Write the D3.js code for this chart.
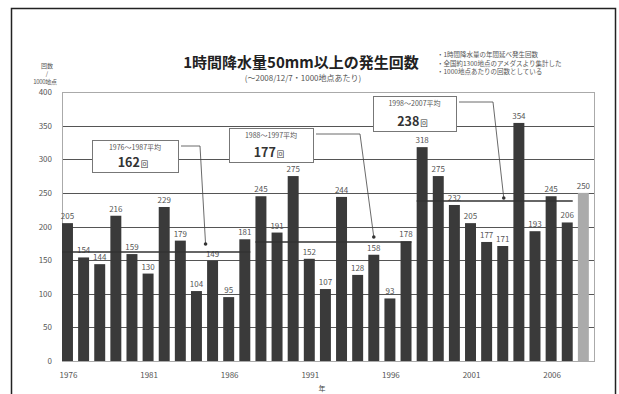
<!DOCTYPE html>
<html lang="ja">
<head>
<meta charset="UTF-8">
<title>1時間降水量50mm以上の発生回数</title>
<script src="https://cdn.jsdelivr.net/npm/d3@7/dist/d3.min.js"></script>
<style>
  body { margin: 0; background: #fff; }
  svg text { font-family: "Noto Sans CJK JP", "Noto Sans", sans-serif; }
</style>
</head>
<body>
<div id="chart"></div>
<script>
const years = ['1976','1977','1978','1979','1980','1981','1982','1983','1984','1985','1986',
  '1987','1988','1989','1990','1991','1992','1993','1994','1995','1996','1997','1998',
  '1999','2000','2001','2002','2003','2004','2005','2006','2007','2008']
const counts = [205, 154, 144, 216, 159, 130, 229, 179, 104, 149, 95, 181, 245, 191, 275, 152,
  107, 244, 128, 158, 93, 178, 318, 275, 232, 205, 177, 171, 354, 193, 245, 206, 250]
const yTicks = [0, 50, 100, 150, 200, 250, 300, 350, 400]
const xTickLabels = ['1976', '1981', '1986', '1991', '1996', '2001', '2006']
const avgLabels = ['1976〜1987平均', '1988〜1997平均', '1998〜2007平均']
const avgFrom = ['1976', '1988', '1998']
const avgTo = ['1987', '1997', '2007']
const avgValues = [162, 177, 238]
const notes = ['・1時間降水量の年間延べ発生回数', '・全国約1300地点のアメダスより集計した', '・1000地点あたりの回数としている']

const width = 619
const height = 394
const plot = { left: 62, right: 594, top: 92, bottom: 361 }

const svg = d3.select('#chart').append('svg')
  .attr('width', width)
  .attr('height', height)

// outer frame
svg.append('rect')
  .attr('x', 11.5).attr('y', 8.5)
  .attr('width', 604).attr('height', 400)
  .attr('fill', 'none').attr('stroke', '#222').attr('stroke-width', 1.5)

const x = d3.scaleBand()
  .domain(years)
  .range([plot.left, plot.right])
  .paddingInner(0.32)
  .paddingOuter(0.16)
  .align(0)

const y = d3.scaleLinear()
  .domain([0, 400])
  .range([plot.bottom, plot.top])

// gridlines
svg.append('g')
  .selectAll('line')
  .data(yTicks.slice(1, -1))
  .join('line')
  .attr('x1', plot.left).attr('x2', plot.right)
  .attr('y1', d => Math.round(y(d)) + 0.5).attr('y2', d => Math.round(y(d)) + 0.5)
  .attr('stroke', '#555').attr('stroke-width', 1)

// plot border
svg.append('rect')
  .attr('x', plot.left + 0.5).attr('y', plot.top + 0.5)
  .attr('width', plot.right - plot.left).attr('height', plot.bottom - plot.top)
  .attr('fill', 'none').attr('stroke', '#aaa')

// y tick labels
svg.append('g')
  .selectAll('text')
  .data(yTicks)
  .join('text')
  .attr('x', 52).attr('y', d => y(d) + 3)
  .attr('text-anchor', 'end')
  .attr('font-size', 8).attr('fill', '#555')
  .text(d => d)

// y unit
const unit = svg.append('g').attr('fill', '#555').attr('font-size', 6).attr('text-anchor', 'middle')
unit.append('text').attr('x', 47).attr('y', 68).text('回数')
unit.append('text').attr('x', 47).attr('y', 76).text('/')
unit.append('text').attr('x', 45).attr('y', 84).attr('letter-spacing', -0.3).text('1000地点')

// bars
svg.append('g')
  .selectAll('rect')
  .data(counts)
  .join('rect')
  .attr('x', (d, i) => x(years[i]))
  .attr('y', d => y(d))
  .attr('width', x.bandwidth())
  .attr('height', d => y(0) - y(d))
  .attr('fill', (d, i) => i === counts.length - 1 ? '#ababab' : '#3a3a3a')

// bar value labels
svg.append('g')
  .selectAll('text')
  .data(counts)
  .join('text')
  .attr('x', (d, i) => x(years[i]) + x.bandwidth() / 2)
  .attr('y', d => y(d) - 4)
  .attr('text-anchor', 'middle')
  .attr('font-size', 8).attr('fill', '#555')
  .text(d => d)

// x tick labels
svg.append('g')
  .selectAll('text')
  .data(xTickLabels)
  .join('text')
  .attr('x', d => x(d) + x.bandwidth() / 2 + 1)
  .attr('y', 378)
  .attr('text-anchor', 'middle')
  .attr('font-size', 8).attr('fill', '#555')
  .text(d => d)

svg.append('text')
  .attr('x', 322).attr('y', 391)
  .attr('text-anchor', 'middle')
  .attr('font-size', 7).attr('fill', '#444')
  .text('年')

// title
svg.append('text')
  .attr('x', 301).attr('y', 68)
  .attr('text-anchor', 'middle')
  .attr('font-size', 15).attr('font-weight', 'bold').attr('fill', '#222')
  .text('1時間降水量50mm以上の発生回数')
svg.append('text')
  .attr('x', 303).attr('y', 81)
  .attr('text-anchor', 'middle')
  .attr('font-size', 8).attr('fill', '#555')
  .text('(〜2008/12/7・1000地点あたり)')

// notes
svg.append('g')
  .selectAll('text')
  .data(notes)
  .join('text')
  .attr('x', 437).attr('y', (d, i) => 57 + i * 8.5)
  .attr('font-size', 6.5).attr('fill', '#555')
  .text(d => d)

// average lines
svg.append('g')
  .selectAll('line')
  .data(avgValues)
  .join('line')
  .attr('x1', (d, i) => x(avgFrom[i]))
  .attr('x2', (d, i) => x(avgTo[i]) + x.bandwidth())
  .attr('y1', d => y(d)).attr('y2', d => y(d))
  .attr('stroke', '#333').attr('stroke-width', 1.5)

// callouts (layout only)
const callouts = [
  { box: [92, 140, 86, 32], elbow: 200, year: '1985', dx: -7, gap: 8 },
  { box: [229, 128, 84, 34], elbow: 360, year: '1995', dx: 0, gap: 5 },
  { box: [373, 96, 83, 35], elbow: 493, year: '2003', dx: 1, gap: 3 }
]

callouts.forEach((c, i) => {
  const [bx, by, bw, bh] = c.box
  const g = svg.append('g')
  g.append('rect')
    .attr('x', bx + 0.5).attr('y', by + 0.5)
    .attr('width', bw).attr('height', bh)
    .attr('fill', '#fff').attr('stroke', '#777')
  g.append('text')
    .attr('x', bx + bw / 2).attr('y', by + 10)
    .attr('text-anchor', 'middle')
    .attr('font-size', 7).attr('fill', '#555')
    .text(avgLabels[i])
  const t = g.append('text')
    .attr('x', bx + bw / 2 - 2).attr('y', by + bh - 5)
    .attr('text-anchor', 'middle')
    .attr('fill', '#333')
  t.append('tspan').attr('font-size', 12.5).attr('font-weight', 'bold').text(avgValues[i])
  t.append('tspan').attr('font-size', 7.5).attr('dx', 1).text('回')

  const ex = x(c.year) + x.bandwidth() / 2 + c.dx
  const ey = y(avgValues[i]) - c.gap
  const sy = by + 6
  g.append('path')
    .attr('d', `M${bx + bw + 3},${sy}H${c.elbow}L${ex},${ey}`)
    .attr('fill', 'none').attr('stroke', '#444').attr('stroke-width', 0.8)
  g.append('circle')
    .attr('cx', ex).attr('cy', ey).attr('r', 1.8)
    .attr('fill', '#333')
})
</script>
</body>
</html>
